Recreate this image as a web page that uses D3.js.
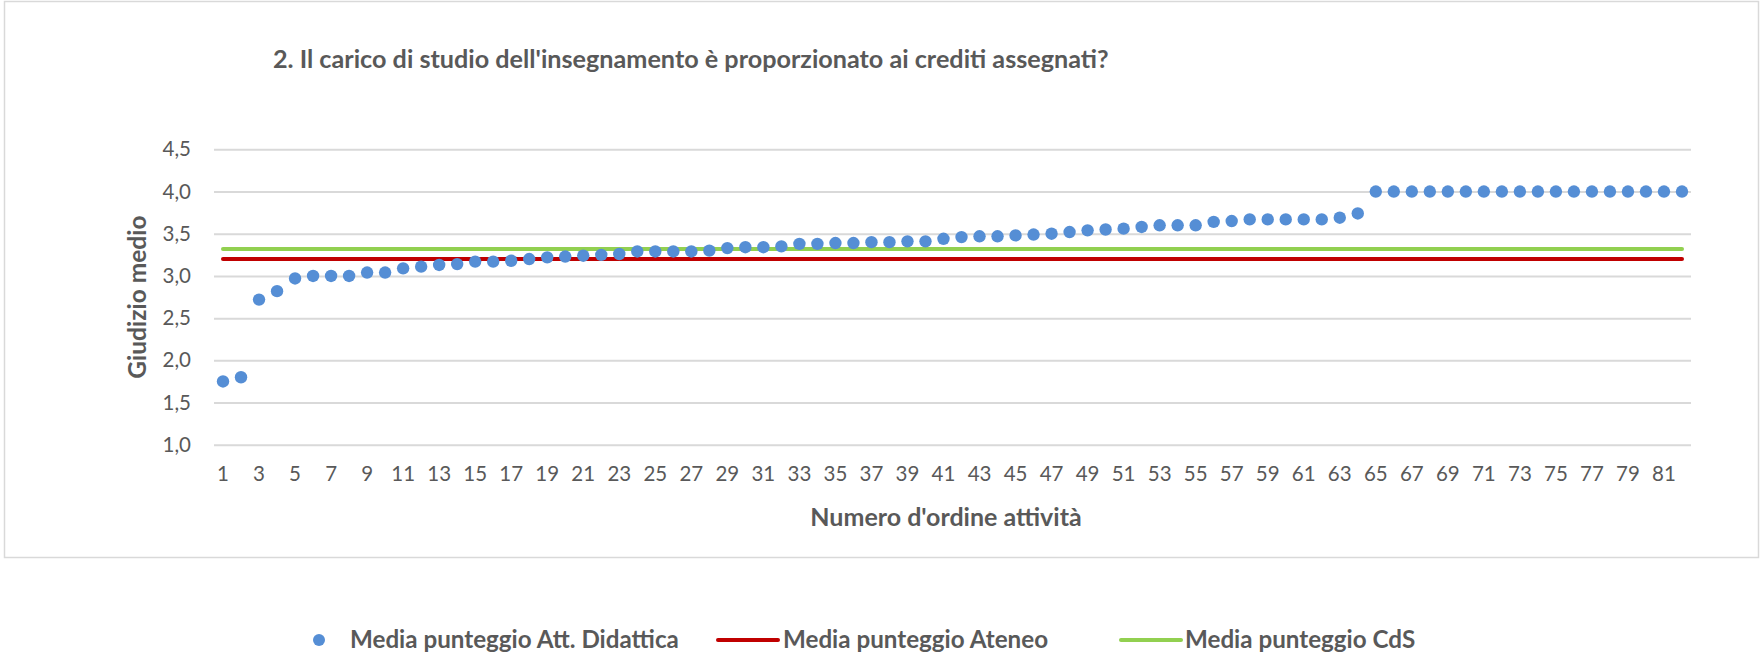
<!DOCTYPE html>
<html>
<head>
<meta charset="utf-8">
<script src="https://cdn.jsdelivr.net/npm/d3@7"></script>
<style>
  html, body { margin: 0; padding: 0; background: #fff; }
  svg text { font-family: Lato, "Open Sans", sans-serif; fill: #595959; }
</style>
</head>
<body>
<div id="chart"></div>
<script>
// valori
const titolo = "2. Il carico di studio dell'insegnamento è proporzionato ai crediti assegnati?"
const titoloY = "Giudizio medio"
const titoloX = "Numero d'ordine attività"
const serieNomi = ["Media punteggio Att. Didattica", "Media punteggio Ateneo", "Media punteggio CdS"]

const attivita = d3.range(1, 83)
const mediaAttDidattica = [
  1.75, 1.80, 2.72, 2.82, 2.97, 3.00, 3.00, 3.00, 3.04, 3.04,
  3.09, 3.11, 3.13, 3.14, 3.17, 3.17, 3.18, 3.20, 3.22, 3.23,
  3.24, 3.25, 3.26, 3.29, 3.29, 3.29, 3.29, 3.30, 3.33, 3.34,
  3.34, 3.35, 3.38, 3.38, 3.39, 3.39, 3.40, 3.40, 3.41, 3.41,
  3.44, 3.46, 3.47, 3.47, 3.48, 3.49, 3.50, 3.52, 3.54, 3.55,
  3.56, 3.58, 3.60, 3.60, 3.60, 3.64, 3.65, 3.67, 3.67, 3.67,
  3.67, 3.67, 3.69, 3.74, 4.00, 4.00, 4.00, 4.00, 4.00, 4.00,
  4.00, 4.00, 4.00, 4.00, 4.00, 4.00, 4.00, 4.00, 4.00, 4.00,
  4.00, 4.00
]
const mediaAteneo = 3.20
const mediaCdS = 3.32
const yTicks = [1.0, 1.5, 2.0, 2.5, 3.0, 3.5, 4.0, 4.5]
const xTicks = attivita.filter(d => d % 2 === 1)

const width = 1762
const height = 654
const colori = { punti: "#558ed5", ateneo: "#c00000", cds: "#92d050", griglia: "#d9d9d9" }

const svg = d3.select("#chart").append("svg")
  .attr("width", width).attr("height", height)

//bordo del grafico
svg.append("rect")
  .attr("x", 4.5).attr("y", 1.5)
  .attr("width", 1754).attr("height", 556)
  .attr("fill", "white")
  .attr("stroke", colori.griglia)
  .attr("stroke-width", 1.5)

const plot = { left: 214, right: 1691, top: 149.3, bottom: 444.8 }

const xScale = d3.scaleBand()
  .domain(attivita)
  .range([plot.left, plot.right])

const yScale = d3.scaleLinear()
  .domain([1, 4.5])
  .range([plot.bottom, plot.top])

const virgola = d3.formatLocale({ decimal: ",", thousands: ".", grouping: [3], currency: ["€", ""] })

//asse y con griglia
const yAxisG = svg.append("g")
  .attr("transform", `translate(${plot.left},0)`)
  .call(d3.axisLeft(yScale)
    .tickValues(yTicks)
    .tickFormat(virgola.format(".1f"))
    .tickSize(-(plot.right - plot.left))
    .tickPadding(23))
yAxisG.select(".domain").remove()
yAxisG.selectAll(".tick line").attr("stroke", colori.griglia).attr("stroke-width", 2)
yAxisG.selectAll(".tick text")
  .style("font-size", "20.5px")
  .attr("fill", "#595959")

//asse x
const xAxisG = svg.append("g")
  .attr("transform", `translate(0,${plot.bottom})`)
  .call(d3.axisBottom(xScale)
    .tickValues(xTicks)
    .tickSize(0)
    .tickPadding(22))
xAxisG.select(".domain").remove()
xAxisG.selectAll(".tick text")
  .style("font-size", "20.5px")
  .attr("fill", "#595959")

const xc = d => xScale(d) + xScale.bandwidth() / 2

//linee medie
const linea = d3.line().x(d => xc(d[0])).y(d => yScale(d[1]))
const estremi = [attivita[0], attivita[attivita.length - 1]]
svg.append("path")
  .datum(estremi.map(a => [a, mediaAteneo]))
  .attr("d", linea)
  .attr("fill", "none")
  .attr("stroke", colori.ateneo)
  .attr("stroke-width", 4)
  .attr("stroke-linecap", "round")
svg.append("path")
  .datum(estremi.map(a => [a, mediaCdS]))
  .attr("d", linea)
  .attr("fill", "none")
  .attr("stroke", colori.cds)
  .attr("stroke-width", 4)
  .attr("stroke-linecap", "round")

//punti
svg.append("g").selectAll("circle")
  .data(attivita)
  .enter().append("circle")
  .attr("cx", d => xc(d))
  .attr("cy", (d, i) => yScale(mediaAttDidattica[i]))
  .attr("r", 6.2)
  .attr("fill", colori.punti)

//titoli
svg.append("text")
  .attr("x", 273).attr("y", 68)
  .style("font-size", "25.2px").style("font-weight", "bold")
  .text(titolo)

svg.append("text")
  .attr("transform", `translate(146,${(plot.top + plot.bottom) / 2}) rotate(-90)`)
  .attr("text-anchor", "middle")
  .style("font-size", "24.5px").style("font-weight", "bold")
  .text(titoloY)

svg.append("text")
  .attr("x", 946).attr("y", 526)
  .attr("text-anchor", "middle")
  .style("font-size", "25px").style("font-weight", "bold")
  .text(titoloX)

//legenda
const legenda = svg.append("g").attr("transform", "translate(0,640)")
legenda.append("circle").attr("cx", 319).attr("cy", 0).attr("r", 6).attr("fill", colori.punti)
legenda.append("line").attr("x1", 718).attr("x2", 778).attr("y1", 0).attr("y2", 0)
  .attr("stroke", colori.ateneo).attr("stroke-width", 4).attr("stroke-linecap", "round")
legenda.append("line").attr("x1", 1121).attr("x2", 1181).attr("y1", 0).attr("y2", 0)
  .attr("stroke", colori.cds).attr("stroke-width", 4).attr("stroke-linecap", "round")
const legX = [350, 783, 1185]
legenda.selectAll("text.leg")
  .data(serieNomi)
  .enter().append("text")
  .attr("class", "leg")
  .attr("x", (d, i) => legX[i])
  .attr("y", 0)
  .attr("dy", "0.35em")
  .style("font-size", "24.2px").style("font-weight", "bold")
  .text(d => d)
</script>
</body>
</html>
